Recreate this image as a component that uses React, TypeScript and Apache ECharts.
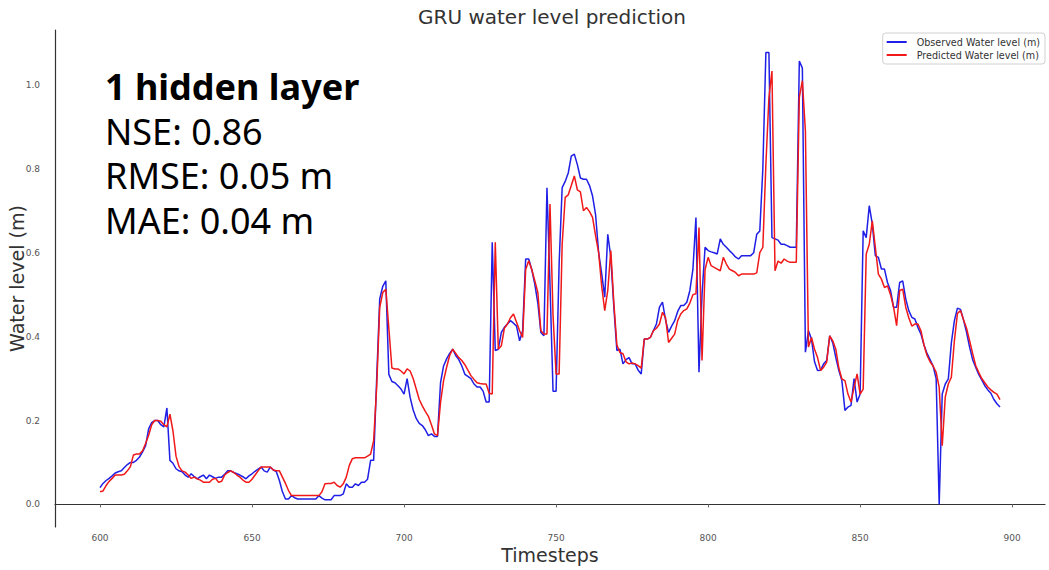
import React, { useEffect, useRef } from "react";
import * as echarts from "echarts";

// First timestep of the evaluation window; one value per step follows.
const START_STEP = 600;

const observed = [
  0.040, 0.050, 0.057, 0.062, 0.068, 0.075, 0.078, 0.080, 0.088, 0.095,
  0.100, 0.100, 0.105, 0.113, 0.125, 0.140, 0.180, 0.195, 0.200, 0.200,
  0.190, 0.185, 0.230, 0.105, 0.098, 0.085, 0.080, 0.078, 0.070, 0.065,
  0.073, 0.066, 0.061, 0.066, 0.070, 0.061, 0.070, 0.066, 0.062, 0.065,
  0.065, 0.072, 0.080, 0.080, 0.076, 0.073, 0.070, 0.066, 0.061, 0.068,
  0.073, 0.079, 0.084, 0.089, 0.080, 0.077, 0.089, 0.082, 0.078, 0.057,
  0.030, 0.013, 0.013, 0.021, 0.016, 0.013, 0.013, 0.013, 0.013, 0.013,
  0.013, 0.013, 0.021, 0.015, 0.011, 0.011, 0.011, 0.021, 0.021, 0.021,
  0.025, 0.049, 0.041, 0.041, 0.049, 0.045, 0.053, 0.053, 0.060, 0.105,
  0.105, 0.300, 0.490, 0.520, 0.533, 0.310, 0.293, 0.290, 0.283, 0.275,
  0.263, 0.300, 0.255, 0.225, 0.205, 0.193, 0.188, 0.178, 0.164, 0.168,
  0.162, 0.162, 0.290, 0.330, 0.347, 0.360, 0.370, 0.355, 0.345, 0.330,
  0.310, 0.305, 0.300, 0.287, 0.280, 0.280, 0.270, 0.244, 0.244, 0.625,
  0.367, 0.370, 0.410, 0.422, 0.430, 0.438, 0.432, 0.425, 0.390, 0.414,
  0.585, 0.585, 0.560, 0.525, 0.480, 0.410, 0.402, 0.755, 0.525, 0.270,
  0.270, 0.573, 0.755, 0.770, 0.790, 0.830, 0.835, 0.810, 0.778, 0.775,
  0.775, 0.760, 0.735, 0.690, 0.600, 0.550, 0.494, 0.644, 0.589, 0.470,
  0.367, 0.370, 0.335, 0.345, 0.350, 0.335, 0.335, 0.320, 0.311, 0.394,
  0.394, 0.398, 0.414, 0.430, 0.470, 0.482, 0.440, 0.410, 0.425, 0.438,
  0.460, 0.474, 0.474, 0.482, 0.510, 0.560, 0.684, 0.315, 0.500, 0.613,
  0.605, 0.602, 0.600, 0.597, 0.633, 0.620, 0.613, 0.605, 0.598, 0.590,
  0.585, 0.593, 0.593, 0.593, 0.593, 0.600, 0.644, 0.652, 0.800, 1.077,
  1.077, 0.636, 0.633, 0.630, 0.620, 0.620, 0.617, 0.613, 0.613, 0.613,
  1.057, 1.040, 0.363, 0.414, 0.394, 0.340, 0.319, 0.320, 0.335, 0.343,
  0.402, 0.385, 0.350, 0.319, 0.295, 0.224, 0.232, 0.236, 0.300, 0.244,
  0.263, 0.652, 0.636, 0.712, 0.668, 0.593, 0.589, 0.561, 0.561, 0.529,
  0.510, 0.470, 0.470, 0.529, 0.533, 0.490, 0.462, 0.446, 0.442, 0.422,
  0.406, 0.380, 0.360, 0.345, 0.330, 0.300, 0.000, 0.263, 0.287, 0.299,
  0.385, 0.438, 0.468, 0.465, 0.440, 0.410, 0.375, 0.345, 0.327, 0.310,
  0.297, 0.283, 0.273, 0.265, 0.250, 0.240, 0.232,
];

const predicted = [
  0.030, 0.032, 0.045, 0.055, 0.062, 0.070, 0.070, 0.070, 0.072, 0.080,
  0.090, 0.118, 0.120, 0.120, 0.128, 0.145, 0.165, 0.190, 0.200, 0.200,
  0.198, 0.190, 0.185, 0.215, 0.175, 0.115, 0.090, 0.080, 0.077, 0.070,
  0.062, 0.065, 0.061, 0.058, 0.053, 0.053, 0.053, 0.060, 0.062, 0.053,
  0.055, 0.070, 0.076, 0.080, 0.076, 0.070, 0.065, 0.058, 0.053, 0.053,
  0.060, 0.070, 0.080, 0.089, 0.089, 0.089, 0.089, 0.082, 0.080, 0.080,
  0.065, 0.050, 0.033, 0.021, 0.021, 0.021, 0.021, 0.021, 0.021, 0.021,
  0.021, 0.021, 0.021, 0.030, 0.049, 0.050, 0.050, 0.053, 0.045, 0.041,
  0.049, 0.065, 0.093, 0.109, 0.111, 0.111, 0.111, 0.111, 0.115, 0.120,
  0.152, 0.280, 0.470, 0.505, 0.513, 0.420, 0.325, 0.323, 0.323, 0.318,
  0.311, 0.323, 0.318, 0.300, 0.275, 0.250, 0.235, 0.222, 0.210, 0.190,
  0.168, 0.164, 0.243, 0.295, 0.327, 0.355, 0.370, 0.360, 0.350, 0.343,
  0.333, 0.320, 0.307, 0.298, 0.290, 0.288, 0.287, 0.287, 0.265, 0.263,
  0.625, 0.370, 0.378, 0.420, 0.430, 0.445, 0.454, 0.434, 0.414, 0.398,
  0.560, 0.581, 0.560, 0.533, 0.505, 0.414, 0.406, 0.406, 0.716, 0.450,
  0.311, 0.311, 0.620, 0.732, 0.738, 0.760, 0.783, 0.750, 0.745, 0.700,
  0.708, 0.698, 0.684, 0.640, 0.600, 0.520, 0.462, 0.510, 0.605, 0.480,
  0.380, 0.362, 0.359, 0.340, 0.335, 0.337, 0.335, 0.331, 0.325, 0.394,
  0.394, 0.398, 0.414, 0.420, 0.430, 0.458, 0.445, 0.386, 0.396, 0.406,
  0.438, 0.454, 0.462, 0.466, 0.480, 0.500, 0.502, 0.660, 0.343, 0.560,
  0.589, 0.569, 0.565, 0.561, 0.557, 0.589, 0.573, 0.561, 0.557, 0.553,
  0.545, 0.549, 0.549, 0.549, 0.549, 0.549, 0.552, 0.600, 0.613, 0.810,
  0.970, 1.033, 0.557, 0.580, 0.575, 0.585, 0.580, 0.577, 0.577, 0.577,
  0.970, 1.010, 0.890, 0.375, 0.398, 0.370, 0.350, 0.319, 0.327, 0.339,
  0.402, 0.390, 0.370, 0.325, 0.299, 0.295, 0.263, 0.244, 0.279, 0.311,
  0.263, 0.275, 0.597, 0.620, 0.676, 0.613, 0.549, 0.537, 0.517, 0.521,
  0.500, 0.470, 0.426, 0.510, 0.513, 0.470, 0.445, 0.425, 0.430, 0.430,
  0.414, 0.380, 0.355, 0.340, 0.330, 0.315, 0.279, 0.140, 0.256, 0.287,
  0.303, 0.390, 0.455, 0.462, 0.440, 0.420, 0.390, 0.360, 0.331, 0.315,
  0.300, 0.290, 0.280, 0.273, 0.267, 0.263, 0.250,
];

const xTicks = [600, 650, 700, 750, 800, 850, 900];
const yTicks = [0, 0.2, 0.4, 0.6, 0.8, 1.0];

const metricLines = ["NSE: 0.86", "RMSE: 0.05 m", "MAE: 0.04 m"];
const headline = "1 hidden layer";

const BASE_FONT = "DejaVu Sans";
const NOTE_FONT = "'Noto Sans', 'Open Sans', sans-serif";

const BLUE = "#1f1fe6";
const RED = "#f01818";

function withSteps(values: number[]): [number, number][] {
  return values.map((v, i) => [START_STEP + i, v]);
}

export default function App() {
  const ref = useRef<HTMLDivElement>(null);

  useEffect(() => {
    if (!ref.current) return;
    const chart = echarts.init(ref.current, undefined, { renderer: "svg" });

    // Matplotlib-style 5% padding around the data range.
    const n = observed.length;
    const xMinData = START_STEP;
    const xMaxData = START_STEP + n - 1;
    const xPad = (xMaxData - xMinData) * 0.05;
    const allY = observed.concat(predicted);
    const yMinData = Math.min(...allY);
    const yMaxData = Math.max(...allY);
    const yPad = (yMaxData - yMinData) * 0.05;

    const noteGraphics: any[] = [
      {
        type: "text",
        x: 105,
        y: 86,
        style: {
          text: headline,
          font: `bold 36px ${NOTE_FONT}`,
          fill: "#000",
          textVerticalAlign: "middle",
        },
      },
      ...metricLines.map((line, i) => ({
        type: "text",
        x: 105,
        y: 131 + i * 44.5,
        style: {
          text: line,
          font: `36px ${NOTE_FONT}`,
          fill: "#000",
          textVerticalAlign: "middle",
        },
      })),
      {
        type: "text",
        x: 552,
        y: 17,
        style: {
          text: "GRU water level prediction",
          font: `20px ${BASE_FONT}`,
          fill: "#333",
          textAlign: "center",
          textVerticalAlign: "middle",
        },
      },
    ];

    chart.setOption({
      animation: false,
      backgroundColor: "#fff",
      grid: {
        left: 55,
        top: 30,
        right: 4,
        bottom: 43,
        containLabel: false,
        outerBoundsMode: "none",
      },
      legend: {
        show: true,
        orient: "vertical",
        right: 4,
        top: 33,
        padding: [4, 5, 4, 4],
        icon: "rect",
        itemWidth: 20,
        itemHeight: 2,
        itemGap: 3,
        borderColor: "#d0d0d0",
        borderWidth: 1,
        borderRadius: 3,
        backgroundColor: "#fff",
        textStyle: {
          fontFamily: BASE_FONT,
          fontSize: 9.6,
          color: "#333",
          padding: [0, 0, 0, 5],
        },
        data: [
          { name: "Observed Water level (m)", itemStyle: { color: BLUE } },
          { name: "Predicted Water level (m)", itemStyle: { color: RED } },
        ],
      },
      xAxis: {
        type: "value",
        min: xMinData - xPad,
        max: xMaxData + xPad,
        name: "Timesteps",
        nameLocation: "middle",
        nameGap: 18,
        nameMoveOverlap: false,
        nameTextStyle: { fontFamily: BASE_FONT, fontSize: 19, color: "#333" },
        axisLine: { show: true, lineStyle: { color: "#333", width: 1.2 } },
        axisTick: {
          show: true,
          length: 3,
          lineStyle: { color: "#666" },
          customValues: xTicks,
        },
        axisLabel: {
          fontFamily: BASE_FONT,
          fontSize: 9,
          color: "#555",
          margin: 6,
          customValues: xTicks,
          formatter: (v: number) => String(Math.round(v)),
        },
        splitLine: { show: false },
      },
      yAxis: {
        type: "value",
        min: yMinData - yPad,
        max: yMaxData + yPad,
        name: "Water level (m)",
        nameLocation: "middle",
        nameGap: 29,
        nameMoveOverlap: false,
        nameTextStyle: { fontFamily: BASE_FONT, fontSize: 19, color: "#333" },
        axisLine: { show: true, lineStyle: { color: "#333", width: 1.2 } },
        axisTick: { show: false, customValues: yTicks },
        axisLabel: {
          fontFamily: BASE_FONT,
          fontSize: 9,
          color: "#555",
          margin: 15,
          customValues: yTicks,
          formatter: (v: number) => v.toFixed(1),
        },
        splitLine: { show: false },
      },
      series: [
        {
          name: "Observed Water level (m)",
          type: "line",
          data: withSteps(observed),
          symbol: "none",
          lineStyle: { color: BLUE, width: 1.5 },
          itemStyle: { color: BLUE },
          z: 2,
        },
        {
          name: "Predicted Water level (m)",
          type: "line",
          data: withSteps(predicted),
          symbol: "none",
          lineStyle: { color: RED, width: 1.5 },
          itemStyle: { color: RED },
          z: 3,
        },
      ],
      graphic: noteGraphics,
    });

    return () => chart.dispose();
  }, []);

  return (
    <div
      ref={ref}
      style={{ position: "absolute", left: 0, top: 0, width: 1049, height: 570 }}
    />
  );
}
